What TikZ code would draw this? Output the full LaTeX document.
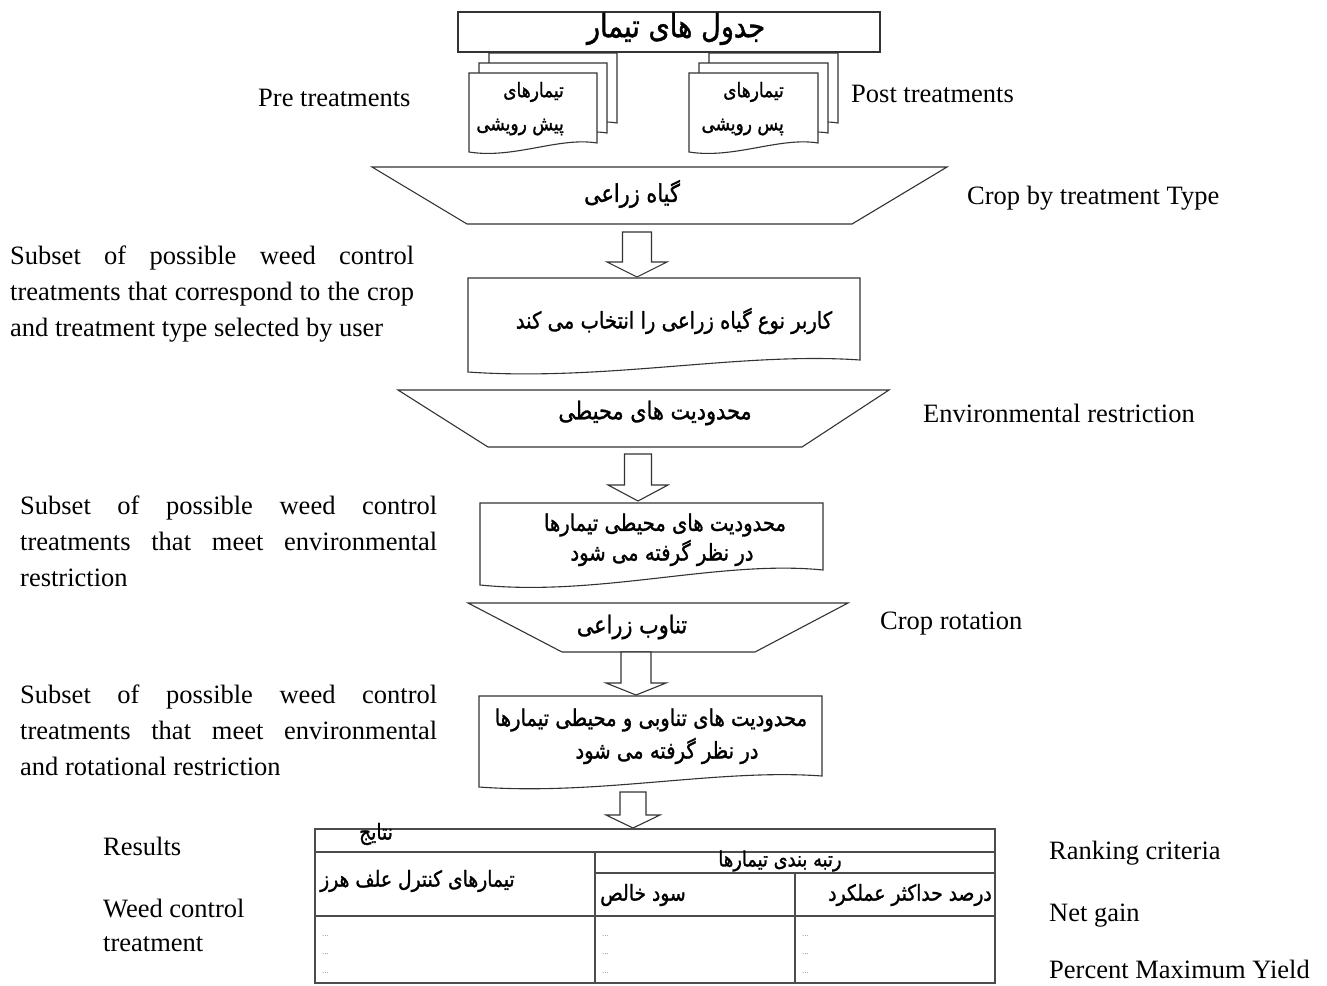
\documentclass[tikz,border=0pt]{standalone}
\usepackage{fontspec}
\setmainfont{Liberation Serif}
\newfontfamily\fa[Script=Arabic, FakeStretch=0.85, FakeBold=1.2]{DejaVu Sans}
\TeXXeTstate=1
% document shape: x1 ytop x2 ybottom-right amplitude
\newcommand\docshape[5]{%
  \draw[ln, fill=white] (#1,#2) -- (#3,#2) -- (#3,#4)
    .. controls ({#3-0.3*(#3-#1)},{#4-0.7*#5}) and ({#1+0.35*(#3-#1)},{#4+1.8*#5}) ..
    (#1,{#4+#5}) -- cycle;}
% trapezoid: xtl xtr ytop xbl xbr ybot
\newcommand\trapshape[6]{%
  \draw[ln, fill=white] (#1,#3) -- (#2,#3) -- (#5,#6) -- (#4,#6) -- cycle;}
% block arrow: cx ytop yhead ytip shafthalf headhalf
\newcommand\blockarrow[6]{%
  \draw[ln, fill=white, line join=miter] ({#1-#5},#2) -- ({#1+#5},#2) -- ({#1+#5},#3) -- ({#1+#6},#3)
    -- (#1,#4) -- ({#1-#6},#3) -- ({#1-#5},#3) -- cycle;}
\tikzset{
  ln/.style={line width=1.1pt, draw=black!80},
  en/.style={font=\fontsize{26.5}{36}\selectfont, inner sep=0pt, anchor=base west},
  fatop/.style={font=\fa\fontsize{32}{36}\selectfont, inner sep=0pt, anchor=center},
  fapage/.style={font=\fa\fontsize{20}{24}\selectfont, inner sep=0pt, anchor=east},
  fatrap/.style={font=\fa\fontsize{24.5}{28}\selectfont, inner sep=0pt, anchor=center},
  fatxt/.style={font=\fa\fontsize{23}{27}\selectfont, inner sep=0pt, anchor=center},
  fatab/.style={font=\fa\fontsize{22}{26}\selectfont, inner sep=0pt, anchor=center},
  dotsty/.style={font=\fontsize{9}{9}\selectfont, text=black!45, inner sep=0pt, anchor=west},
  tbl/.style={line width=1.4pt, draw=black!70},
}
\begin{document}
\begin{tikzpicture}[x=1pt,y=-1pt]
\useasboundingbox (0,0) rectangle (1327,985);
\fill[white] (0,0) rectangle (1327,985);

% document stacks
\docshape{489}{53}{617}{123}{9}
\docshape{479}{63}{607}{133}{9}
\docshape{469}{73}{597}{143}{9}
\docshape{709}{53}{838}{123}{9}
\docshape{699}{63}{828}{133}{9}
\docshape{689}{73}{818}{143}{9}
\node[fapage] (preA) at (564,92) {\beginR تیمارهای\endR};
\node[fapage] (preB) at (564,127) {\beginR پیش رویشی\endR};
\node[fapage] (postA) at (784,92) {\beginR تیمارهای\endR};
\node[fapage] (postB) at (784,127) {\beginR پس رویشی\endR};

% top box
\node[ln, draw, fill=white, minimum width=422pt, minimum height=40pt, inner sep=0pt] (top) at (669,32) {};
\node[fatop] (toptxt) at (676,29) {\beginR جدول های تیمار\endR};

% trapezoid 1
\trapshape{372}{947}{167}{467}{852}{224}
\node[fatrap] (t1) at (632,194) {\beginR گیاه زراعی\endR};
\blockarrow{637}{232}{262}{277}{14.5}{30}

% box 2
\docshape{468}{278}{860}{360}{12}
\node[fatxt] (b2) at (674,321) {\beginR کاربر نوع گیاه زراعی را انتخاب می کند\endR};

% trapezoid 2
\trapshape{398}{889}{390}{488}{802}{447}
\node[fatrap] (t2) at (655,413) {\beginR محدودیت های محیطی\endR};
\blockarrow{638}{454}{485}{501}{13.5}{30}

% box 3
\docshape{480}{503}{823}{570}{15}
\node[fatxt] (b3a) at (665,525) {\beginR محدودیت های محیطی تیمارها\endR};
\node[fatxt] (b3b) at (662,553) {\beginR در نظر گرفته می شود\endR};

% trapezoid 3
\trapshape{468}{848}{603}{562}{755}{652}
\node[fatrap] (t3) at (632,627) {\beginR تناوب زراعی\endR};
\blockarrow{636}{652}{683}{695}{15}{30}

% box 4
\docshape{479}{696}{822}{776}{11}
\node[fatxt] (b4a) at (651,720) {\beginR محدودیت های تناوبی و محیطی تیمارها\endR};
\node[fatxt] (b4b) at (667,751) {\beginR در نظر گرفته می شود\endR};
\blockarrow{633}{792}{815}{828}{13}{27}

% results table
\draw[tbl] (315,829) rectangle (995,983);
\draw[tbl] (315,852) -- (995,852);
\draw[tbl] (595,873) -- (995,873);
\draw[tbl] (315,916) -- (995,916);
\draw[tbl] (595,852) -- (595,983);
\draw[tbl] (795,873) -- (795,983);
\node[fatab] (res) at (376,834) {\beginR نتایج\endR};
\node[fatab, font=\fa\fontsize{21}{24}\selectfont] (rank) at (780,861) {\beginR رتبه بندی تیمارها\endR};
\node[fatab, anchor=west] (wct) at (320,881) {\beginR تیمارهای کنترل علف هرز\endR};
\node[fatab, anchor=west] (net) at (600,895) {\beginR سود خالص\endR};
\node[fatab, anchor=east] (pmy) at (992,895) {\beginR درصد حداکثر عملکرد\endR};
\foreach \xx in {322,602,802}{
  \foreach \yy in {936,954,973}{
    \node[dotsty] at (\xx,\yy) {...};
  }
}

% English labels
\node[en] (pre) at (258,106) {Pre treatments};
\node[en] (post) at (851,102) {Post treatments};
\node[en] (crop) at (967,204) {Crop by treatment Type};
\node[en] (env) at (923,422) {Environmental restriction};
\node[en] (rot) at (880,629) {Crop rotation};
\node[en] (s1a) at (10,264) {\makebox[404pt][s]{Subset of possible weed control}};
\node[en] (s1b) at (10,300) {\makebox[404pt][s]{treatments that correspond to the crop}};
\node[en] (s1c) at (10,336) {and treatment type selected by user};
\node[en] (s2a) at (20,514) {\makebox[417pt][s]{Subset of possible weed control}};
\node[en] (s2b) at (20,550) {\makebox[417pt][s]{treatments that meet environmental}};
\node[en] (s2c) at (20,586) {restriction};
\node[en] (s3a) at (20,703) {\makebox[417pt][s]{Subset of possible weed control}};
\node[en] (s3b) at (20,739) {\makebox[417pt][s]{treatments that meet environmental}};
\node[en] (s3c) at (20,775) {and rotational restriction};
\node[en] (rl) at (103,855) {Results};
\node[en] (wc1) at (103,917) {Weed control};
\node[en] (wc2) at (103,951) {treatment};
\node[en] (rc) at (1049,859) {Ranking criteria};
\node[en] (ng) at (1049,921) {Net gain};
\node[en] (pm) at (1049,978) {Percent Maximum Yield};
\end{tikzpicture}
\end{document}
